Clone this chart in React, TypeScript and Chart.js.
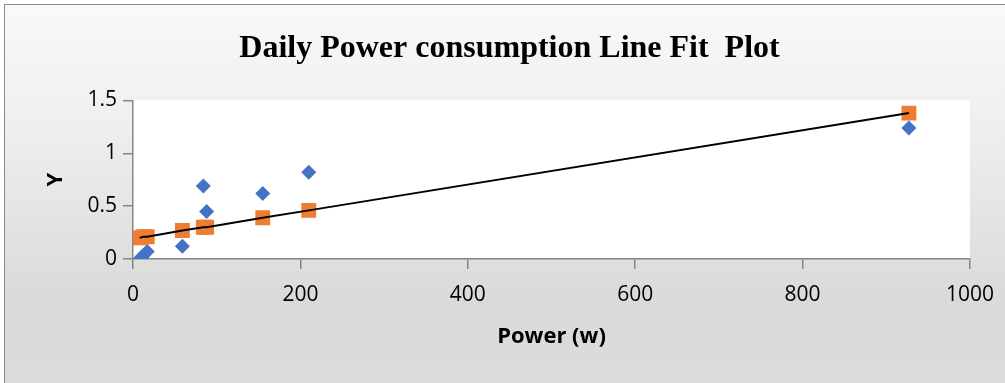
import React, { useEffect, useRef } from "react";
import { Chart, registerables } from "chart.js";

Chart.register(...registerables);

const chartTitle = "Daily Power consumption Line Fit  Plot";
const xAxisTitle = "Power (w)";
const yAxisTitle = "Y";

const powerW = [8, 12, 17, 59, 84, 88, 155, 210, 927];
const actualY = [0.0, 0.03, 0.07, 0.12, 0.69, 0.45, 0.62, 0.82, 1.24];
const predictedY = [0.2, 0.21, 0.21, 0.27, 0.3, 0.3, 0.39, 0.46, 1.38];

const xTicks = [0, 200, 400, 600, 800, 1000];
const yTicks = [0, 0.5, 1, 1.5];

export default function App() {
  const ref = useRef<HTMLCanvasElement | null>(null);

  useEffect(() => {
    if (!ref.current) return;
    const pts = (ys: number[]) => powerW.map((x, i) => ({ x, y: ys[i] }));
    const linePts = pts(predictedY).slice().sort((a, b) => a.x - b.x);
    const axisColor = "#868686";
    const chart = new Chart(ref.current, {
      type: "scatter",
      data: {
        datasets: [
          {
            label: "Fit",
            data: linePts,
            showLine: true,
            borderColor: "#000000",
            borderWidth: 2,
            pointRadius: 0,
            fill: false,
          },
          {
            label: "Predicted Y",
            data: pts(predictedY),
            pointStyle: "rect",
            pointRadius: 10.5,
            backgroundColor: "#ED7D31",
            borderColor: "#ED7D31",
            borderWidth: 0,
          },
          {
            label: "Y",
            data: pts(actualY),
            pointStyle: "rectRot",
            pointRadius: 7.5,
            backgroundColor: "#4472C4",
            borderColor: "#4472C4",
            borderWidth: 0,
          },
        ],
      },
      options: {
        animation: false,
        responsive: false,
        maintainAspectRatio: false,
        layout: { padding: { left: 14, right: 0, top: 0, bottom: 0 } },
        plugins: {
          legend: { display: false },
          tooltip: { enabled: false },
          title: {
            display: true,
            text: chartTitle,
            color: "#000000",
            font: { family: "'Liberation Serif', 'Times New Roman', serif", size: 32, weight: "bold" },
            padding: { top: 30, bottom: 32 },
          },
        },
        scales: {
          x: {
            type: "linear",
            min: xTicks[0],
            max: xTicks[xTicks.length - 1],
            afterBuildTicks: (s: any) => {
              s.ticks = xTicks.map((v) => ({ value: v }));
            },
            afterFit: (s: any) => {
              s.height = 124;
              s.paddingLeft = 0;
              s.paddingRight = 0;
            },
            ticks: {
              color: "#000000",
              font: { family: "'Open Sans', sans-serif", size: 21 },
              padding: 13,
              maxRotation: 0,
              callback: (v: any) => String(v),
            },
            grid: {
              drawOnChartArea: false,
              drawTicks: true,
              tickLength: 10,
              color: axisColor,
              lineWidth: 1.5,
            },
            border: { display: true, color: axisColor, width: 1.5 },
            title: {
              display: true,
              text: xAxisTitle,
              color: "#000000",
              font: { family: "'Open Sans', sans-serif", size: 22, weight: "bold" },
              padding: { top: 0, bottom: 33 },
            },
          },
          y: {
            type: "linear",
            min: yTicks[0],
            max: yTicks[yTicks.length - 1],
            afterBuildTicks: (s: any) => {
              s.ticks = yTicks.map((v) => ({ value: v }));
            },
            afterFit: (s: any) => {
              s.width = 119;
            },
            ticks: {
              color: "#000000",
              font: { family: "'Open Sans', sans-serif", size: 21 },
              padding: 6,
              callback: (v: any) => String(v),
            },
            grid: {
              drawOnChartArea: false,
              drawTicks: true,
              tickLength: 10,
              color: axisColor,
              lineWidth: 1.5,
            },
            border: { display: true, color: axisColor, width: 1.5 },
            title: {
              display: true,
              text: yAxisTitle,
              color: "#000000",
              font: { family: "'Open Sans', sans-serif", size: 22, weight: "bold" },
              padding: { top: 29, bottom: 0 },
            },
          },
          yRight: {
            type: "linear",
            position: "right",
            min: 0,
            max: 1,
            afterFit: (s: any) => {
              s.width = 35;
            },
            ticks: { display: false },
            grid: { display: false, drawOnChartArea: false, drawTicks: false },
            border: { display: false },
            title: { display: false },
          },
        },
      },
      plugins: [
        {
          id: "plotBg",
          beforeDraw: (c: any) => {
            const { ctx, chartArea } = c;
            ctx.save();
            ctx.fillStyle = "#ffffff";
            ctx.fillRect(chartArea.left, chartArea.top, chartArea.right - chartArea.left, chartArea.bottom - chartArea.top);
            ctx.restore();
          },
        },
      ],
    });
    return () => chart.destroy();
  }, []);

  return (
    <div style={{ position: "absolute", left: 0, top: 0, width: 1005, height: 383, overflow: "hidden", background: "#ffffff" }}>
      <div
        style={{
          position: "absolute",
          left: 4,
          top: 4,
          width: 1040,
          height: 420,
          border: "1.5px solid #8a8a8a",
          background: "linear-gradient(to bottom, #f9f9f9 0%, #eeeeee 30%, #dadada 70%, #dcdcdc 100%)",
        }}
      />
      <canvas ref={ref} width={1005} height={383} style={{ position: "absolute", left: 0, top: 0, width: 1005, height: 383 }} />
    </div>
  );
}
